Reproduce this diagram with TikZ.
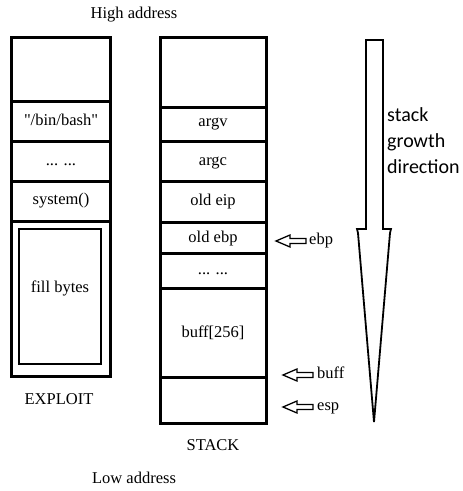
\documentclass[tikz,border=0pt]{standalone}
\usepackage{fontspec}
\setmainfont{Liberation Serif}[Ligatures=TeXOff]
\newfontfamily\growthfont{Carlito}
\begin{document}
\begin{tikzpicture}[x=1pt,y=-1pt,
  txt/.style={font=\fontsize{16.5}{19}\selectfont, text height=11pt, text depth=3.5pt, inner sep=0pt},
  sidetxt/.style={txt, anchor=west},
  growtxt/.style={font=\growthfont\fontsize{20}{23}\selectfont, text height=13pt, text depth=4pt, inner sep=0pt, anchor=west},
  wall/.style={line width=3pt, line cap=rect},
  inner/.style={line width=2pt},
  hollow/.style={line width=1.3pt, line join=miter},
  bigarrow/.style={line width=1.8pt, line join=miter},
  pics/hollowarrow/.style={code={\draw[hollow] (0,0) -- (14,-6) -- (14,-2.5) -- (30,-2.5) -- (30,2.5) -- (14,2.5) -- (14,6) -- cycle;}}
]
\useasboundingbox (0,0) rectangle (463,491);

% headings
\node[txt] (high) at (134,15) {High address};
\node[txt] (low) at (134,480) {Low address};

% EXPLOIT column
\draw[wall] (11,37) rectangle (110,376);
\foreach \yy in {101,141,181,221} \draw[wall] (11,\yy) -- (110,\yy);
\draw[inner] (19,229) rectangle (101,364);
\node[txt] (binbash) at (61,122) {"/bin/bash"};
\node[txt] (edots) at (61,162) {... ...};
\node[txt] (system) at (61,201) {system()};
\node[txt] (fill) at (60,289) {fill bytes};
\node[txt] (exploit) at (59,401) {EXPLOIT};

% STACK column
\draw[wall] (160,37) rectangle (266,423);
\foreach \yy in {107,141,181,222,253,288,377} \draw[wall] (160,\yy) -- (266,\yy);
\node[txt] (argv) at (213,123) {argv};
\node[txt] (argc) at (213,162) {argc};
\node[txt] (oldeip) at (213,202) {old eip};
\node[txt] (oldebp) at (213,239) {old ebp};
\node[txt] (sdots) at (213,271) {... ...};
\node[txt] (buffarr) at (213,334) {buff[256]};
\node[txt] (stack) at (213,447) {STACK};

% pointers
\pic at (276,241) {hollowarrow};
\node[sidetxt] (ebp) at (309,241) {ebp};
\pic at (283,375) {hollowarrow};
\node[sidetxt] (buff) at (317,375) {buff};
\pic at (283,407) {hollowarrow};
\node[sidetxt] (esp) at (317,407) {esp};

% stack growth arrow
\draw[bigarrow] (366,40) -- (383,40) -- (383,229) -- (391,229) -- (390,233) -- (374,422)
  -- (358,233) -- (357,229) -- (366,229) -- cycle;
\node[growtxt] (g1) at (387,117) {stack};
\node[growtxt] (g2) at (387,143) {growth};
\node[growtxt] (g3) at (387,169) {direction};
\end{tikzpicture}
\end{document}
